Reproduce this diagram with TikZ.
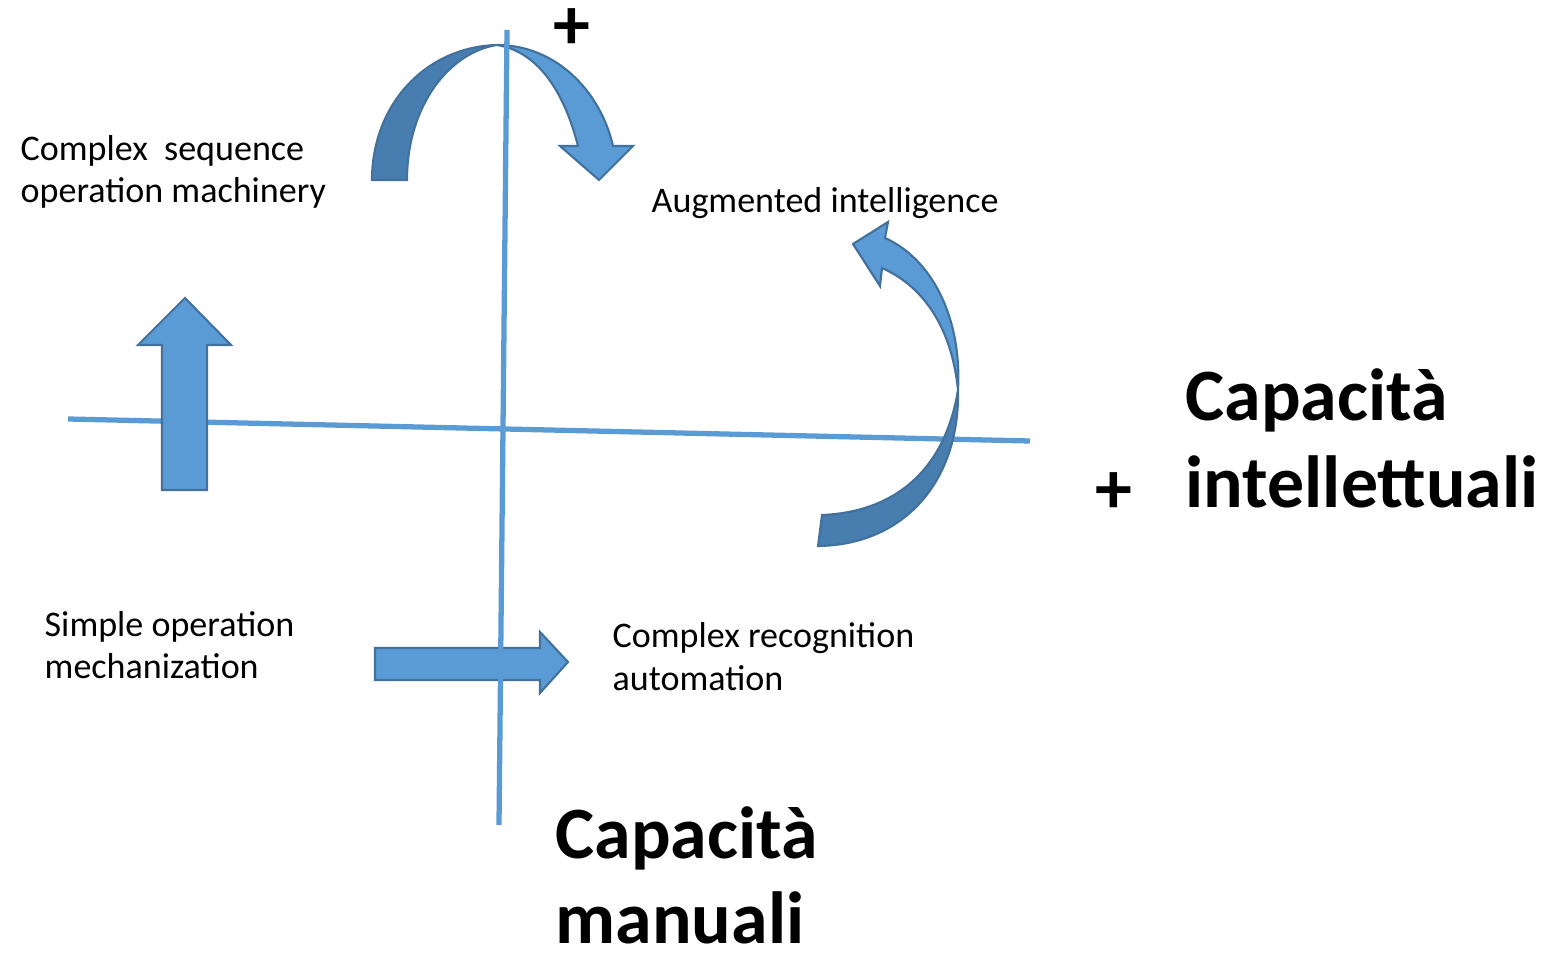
\documentclass[tikz,border=0pt]{standalone}
\usepackage{fontspec}
\setmainfont{Carlito}
\usetikzlibrary{positioning}
\definecolor{axisblue}{HTML}{5B9BD5}
\definecolor{arrowlight}{HTML}{5B9BD5}
\definecolor{arrowdark}{HTML}{487DB0}
\definecolor{arrowedge}{HTML}{41719C}
\newcommand{\quadsmallfont}{\fontsize{10.25}{12.2}\selectfont}
\newcommand{\quadbigfont}{\fontsize{21}{25}\selectfont\bfseries}
\tikzstyle{axisline}=[
    draw=axisblue,
    line width=1.5pt
]
\tikzstyle{lightarrow}=[
    fill=arrowlight,
    draw=arrowedge,
    line width=0.6pt,
    line join=miter
]
\tikzstyle{darkarrow}=[
    fill=arrowdark,
    draw=arrowedge,
    line width=0.6pt,
    line join=miter
]
\tikzstyle{quadtext}=[
    anchor=base west,
    inner sep=0pt,
    align=left,
    font=\quadsmallfont
]
\tikzstyle{axistext}=[
    anchor=base west,
    inner sep=0pt,
    align=left,
    text depth=0pt,
    font=\quadbigfont
]
\tikzstyle{plussign}=[
    anchor=base,
    inner sep=0pt,
    font=\quadbigfont
]

\begin{document}
\begin{tikzpicture}[x=0.01cm,y=-0.01cm]
    \useasboundingbox (0,0) rectangle (1554,958);

    % axes end points
    \coordinate (hleft) at (68,419);
    \coordinate (hright) at (1030,441);
    \coordinate (vtop) at (507,30);
    \coordinate (vbot) at (499,825);

    \draw[axisline] (hleft) -- (hright);

    % straight block arrows
    \draw[lightarrow] (162,490) -- (162,345) -- (138,345) -- (185,298)
        -- (231,345) -- (207,345) -- (207,490) -- cycle;
    \draw[lightarrow] (375,648) -- (540,648) -- (540,632) -- (568,662)
        -- (540,693) -- (540,680) -- (375,680) -- cycle;

    % curved arrow, right
    \draw[darkarrow] (958,390) .. controls (960,480) and (905,545) .. (818,546)
        -- (822,515) .. controls (895,512) and (945,470) .. (958,390) -- cycle;
    \draw[lightarrow] (885,238) .. controls (930,258) and (962,315) .. (958,390)
        .. controls (952,330) and (925,287) .. (882,268) -- (880,286)
        -- (853,244) -- (888,222) -- cycle;

    % curved arrow, top
    \draw[darkarrow] (372,180) .. controls (372,105) and (425,47) .. (497,45)
        .. controls (450,52) and (407,105) .. (407,180) -- cycle;
    \draw[lightarrow] (497,45) .. controls (555,45) and (600,90) .. (613,146)
        -- (633,146) -- (599,180) -- (560,146) -- (578,146)
        .. controls (565,95) and (540,52) .. (497,45) -- cycle;

    \draw[axisline] (vtop) -- (vbot);

    % texts (base = last line)
    \node[quadtext] (seq) at (20,203) {Complex~~sequence\\operation machinery};
    \node[quadtext] (aug) at (651,213) {Augmented intelligence};
    \node[quadtext] (simple) at (44,679) {Simple operation\\mechanization};
    \node[quadtext] (recog) at (612,690) {Complex recognition\\automation};

    \node[axistext] (intell) at (1185,508) {Capacità\\intellettuali};
    \node[axistext, font=\fontsize{21}{24}\selectfont\bfseries] (manual) at (555,943) {Capacità\\manuali};
    \node[plussign] (plusright) at (1114,514) {+};
    \node[plussign] (plustop) at (572,50) {+};
\end{tikzpicture}
\end{document}
